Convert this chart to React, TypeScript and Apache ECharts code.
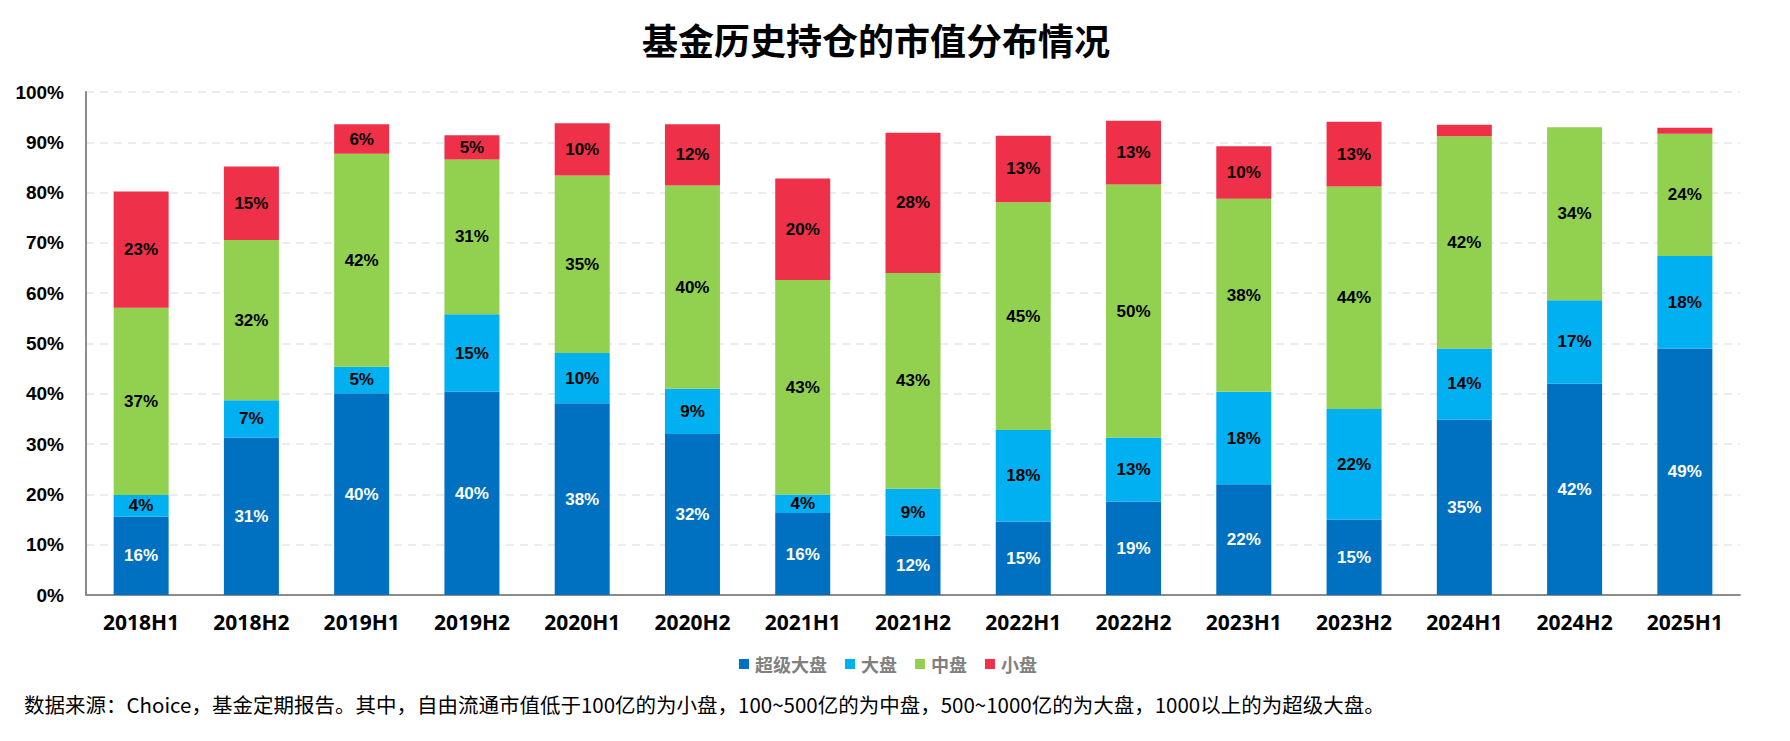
import React, { useEffect, useRef } from "react";
import * as echarts from "echarts";

const categories = ["2018H1", "2018H2", "2019H1", "2019H2", "2020H1", "2020H2", "2021H1", "2021H2", "2022H1", "2022H2", "2023H1", "2023H2", "2024H1", "2024H2", "2025H1"];
const superLarge = [15.6, 31.3, 40.1, 40.4, 38.1, 32.0, 16.3, 11.8, 14.6, 18.6, 22.0, 15.0, 34.9, 42.0, 49.0];
const large = [4.3, 7.4, 5.3, 15.4, 10.0, 9.0, 3.7, 9.3, 18.2, 12.7, 18.4, 22.0, 14.1, 16.6, 18.4];
const mid = [37.2, 31.9, 42.3, 30.8, 35.3, 40.4, 42.6, 42.9, 45.3, 50.3, 38.4, 44.2, 42.2, 34.4, 24.3];
const small = [23.1, 14.6, 5.9, 4.8, 10.4, 12.2, 20.2, 27.9, 13.2, 12.7, 10.4, 12.9, 2.3, 0, 1.2];
const seriesNames = ["超级大盘", "大盘", "中盘", "小盘"];
const yTicks = [0, 10, 20, 30, 40, 50, 60, 70, 80, 90, 100];
const titleText = "基金历史持仓的市值分布情况";
const noteText = "数据来源：Choice，基金定期报告。其中，自由流通市值低于100亿的为小盘，100~500亿的为中盘，500~1000亿的为大盘，1000以上的为超级大盘。";

const colors = ["#0070C0", "#00B0F0", "#92D050", "#EE3048"];
const numFont = "'Liberation Sans Narrow', 'Arial Narrow', 'Liberation Sans', Arial, sans-serif";
const cjkFont = "'Noto Sans CJK SC', 'Open Sans', sans-serif";

export default function App() {
  const ref = useRef<HTMLDivElement>(null);
  useEffect(() => {
    document.body.style.margin = "0";
    if (!ref.current) return;
    const chart = echarts.init(ref.current, null, { renderer: "svg" });
    const data = [superLarge, large, mid, small];
    chart.setOption({
      animation: false,
      backgroundColor: "#ffffff",
      title: {
        text: titleText,
        left: 637,
        top: 16,
        textStyle: { fontFamily: cjkFont, fontSize: 36, fontWeight: "bold", color: "#000" },
      },
      legend: {
        data: seriesNames,
        left: 734,
        top: 650,
        icon: "rect",
        itemWidth: 10,
        itemHeight: 10,
        itemGap: 18,
        textStyle: { fontFamily: cjkFont, fontSize: 18, fontWeight: "bold", color: "#808080", padding: [0, 0, 0, 1] },
      },
      graphic: [
        {
          type: "text",
          left: 24,
          top: 694,
          style: { text: noteText, fontFamily: cjkFont, fontSize: 20.5, fill: "#000" },
        },
      ],
      grid: { left: 86, right: 50, top: 92, bottom: 146, containLabel: false },
      xAxis: {
        type: "category",
        data: categories,
        axisLine: { lineStyle: { color: "#8c8c8c", width: 2 } },
        axisTick: { show: false },
        axisLabel: { margin: 16, fontFamily: "'Open Sans', sans-serif", fontWeight: "bold", fontSize: 21, color: "#000" },
      },
      yAxis: {
        type: "value",
        min: 0,
        max: 100,
        interval: 10,
        axisLine: { show: true, lineStyle: { color: "#8c8c8c", width: 2 } },
        axisTick: { show: false },
        axisLabel: {
          margin: 22,
          fontFamily: numFont,
          fontWeight: "bold",
          fontSize: 19,
          color: "#000",
          formatter: (v: number) => (yTicks.includes(v) ? v + "%" : ""),
        },
        splitLine: { lineStyle: { color: "#e6e6e6", width: 1.5, type: [8, 6] } },
      },
      series: seriesNames.map((name, i) => ({
        name,
        type: "bar",
        stack: "total",
        barWidth: 55,
        itemStyle: { color: colors[i] },
        data: data[i],
        label: {
          show: true,
          position: "inside",
          fontFamily: numFont,
          fontWeight: "bold",
          fontSize: 17,
          color: i === 0 ? "#ffffff" : "#000000",
          formatter: (p: any) => (p.value >= 3 ? Math.round(p.value) + "%" : ""),
        },
      })),
    });
    return () => chart.dispose();
  }, []);
  return <div ref={ref} style={{ width: 1790, height: 741 }} />;
}
